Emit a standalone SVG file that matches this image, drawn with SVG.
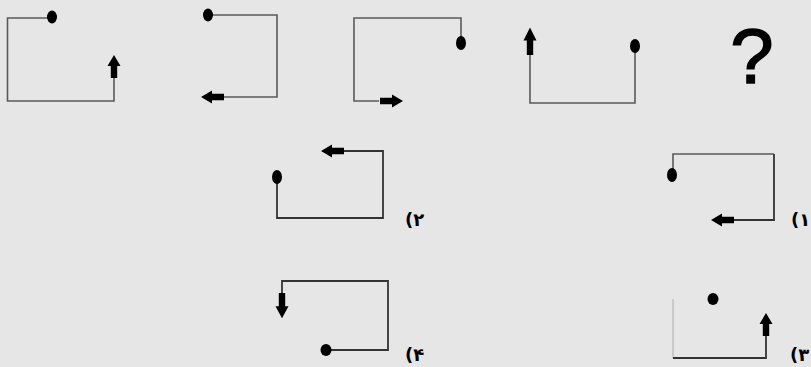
<svg xmlns="http://www.w3.org/2000/svg" width="811" height="367" viewBox="0 0 811 367">
<style>
.ln{fill:none;stroke:#5a5a5a;stroke-width:1.6}
.dk{fill:none;stroke:#333;stroke-width:1.8}
.dot{fill:#000}
.lbl{font-family:"DejaVu Sans","Noto Sans",sans-serif;font-size:18px;font-weight:bold;fill:#000}
.q{font-family:"Liberation Sans",Arial,sans-serif;font-size:78px;fill:#000;stroke:#000;stroke-width:1.5}
</style>
<defs>
<path id="arr" d="M0,-3.2 L12,-3.2 L12,-6.5 L23,0 L12,6.5 L12,3.2 L0,3.2 Z" fill="#000"/>
</defs>
<rect x="0" y="0" width="811" height="367" fill="#e6e6e6"/>

<g id="fig1">
<path class="ln" d="M52,18 H7.5 V101 H114 V76"/>
<ellipse class="dot" cx="52" cy="17" rx="5" ry="6.5"/>
<use href="#arr" transform="translate(114,78) rotate(-90)"/>
</g>

<g id="fig2">
<path class="ln" d="M208,15 H277 V97 H224"/>
<ellipse class="dot" cx="208" cy="15" rx="5" ry="6.5"/>
<use href="#arr" transform="translate(224,97) rotate(180)"/>
</g>

<g id="fig3">
<path class="ln" d="M461,43 V18 H354 V101 H379"/>
<ellipse class="dot" cx="461" cy="43" rx="5" ry="7"/>
<use href="#arr" transform="translate(380,101)"/>
</g>

<g id="fig4">
<path class="ln" d="M530,50 V103 H635 V46"/>
<ellipse class="dot" cx="635" cy="46" rx="5" ry="7"/>
<use href="#arr" transform="translate(530,55) rotate(-90) scale(1.2,1)"/>
</g>

<g id="question">
<text class="q" x="752" y="83" text-anchor="middle">?</text>
</g>

<g id="opt2">
<path class="dk" d="M277,177 V218 H383 V151 H343"/>
<ellipse class="dot" cx="277" cy="177" rx="5" ry="7"/>
<use href="#arr" transform="translate(344,151) rotate(180)"/>
<text class="lbl" x="405" y="226">(۲</text>
</g>

<g id="opt1">
<path class="ln" d="M673,170 V154 H774"/>
<path class="dk" d="M774,154 V220 H733"/>
<ellipse class="dot" cx="672" cy="175" rx="5" ry="7"/>
<use href="#arr" transform="translate(734,220) rotate(180)"/>
<text class="lbl" x="791" y="226">(۱</text>
</g>

<g id="opt4">
<path class="dk" d="M282,293 V281 H388 V350 H326"/>
<ellipse class="dot" cx="326" cy="350" rx="5.5" ry="6"/>
<use href="#arr" transform="translate(282,293) rotate(90) scale(1.1,1)"/>
<text class="lbl" x="405" y="361">(۴</text>
</g>

<g id="opt3">
<path class="ln" d="M673,299 V358" style="stroke:#c4c4c4"/>
<path class="dk" d="M673,358 H766 V335"/>
<ellipse class="dot" cx="713" cy="299" rx="5.5" ry="6"/>
<use href="#arr" transform="translate(766,336) rotate(-90)"/>
<text class="lbl" x="790" y="361">(۳</text>
</g>
</svg>
